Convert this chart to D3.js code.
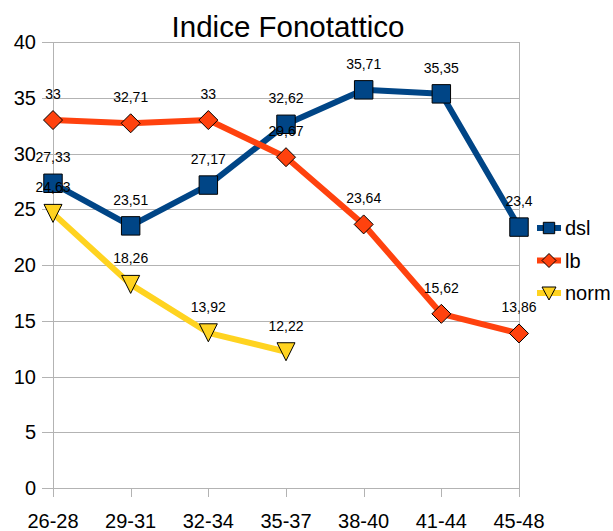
<!DOCTYPE html>
<html>
<head>
<meta charset="utf-8">
<script src="https://cdn.jsdelivr.net/npm/d3@7"></script>
<style>
  body { margin: 0; background: #fff; }
  text { font-family: "Liberation Sans", Arial, sans-serif; fill: #000; }
</style>
</head>
<body>
<div id="chart"></div>
<script>

// Categories (age groups) on the X axis.
var categories = ["26-28", "29-31", "32-34", "35-37", "38-40", "41-44", "45-48"];

// Series values, null where no value was recorded.
var dslValues  = [27.33, 23.51, 27.17, 32.62, 35.71, 35.35, 23.4];
var lbValues   = [33, 32.71, 33, 29.67, 23.64, 15.62, 13.86];
var normValues = [24.63, 18.26, 13.92, 12.22, null, null, null];

var yTicks = [0, 5, 10, 15, 20, 25, 30, 35, 40];

var series = [
  { name: "dsl",  values: dslValues,  color: "#004586", symbol: "square" },
  { name: "lb",   values: lbValues,   color: "#ff420e", symbol: "diamond" },
  { name: "norm", values: normValues, color: "#ffd320", symbol: "triangle" }
];

var width = 613, height = 531;
var margin = {top: 42, right: 94, bottom: 43, left: 53};
var plot_width = width - margin.left - margin.right,
    plot_height = height - margin.top - margin.bottom;

var svg = d3.select("#chart")
  .append("svg")
  .attr("width", width)
  .attr("height", height);

var g = svg.append("g")
  .attr("transform", "translate(" + margin.left + "," + margin.top + ")");

// Scales
var x = d3.scalePoint()
  .domain(categories)
  .range([0, plot_width]);

var y = d3.scaleLinear()
  .domain([0, 40])
  .range([plot_height, 0]);

// Title
svg.append("text")
  .attr("x", 288)
  .attr("y", 37)
  .style("text-anchor", "middle")
  .style("font-size", "29.5px")
  .text("Indice Fonotattico");

// Horizontal grid lines with outward ticks
g.append("g")
  .selectAll("line")
  .data(yTicks)
  .enter()
  .append("line")
  .attr("x1", -11)
  .attr("x2", plot_width)
  .attr("y1", function(d) { return Math.round(y(d)) + 0.5; })
  .attr("y2", function(d) { return Math.round(y(d)) + 0.5; })
  .attr("stroke", "#b3b3b3")
  .attr("stroke-width", 1);

// Y tick labels
g.append("g")
  .selectAll("text")
  .data(yTicks)
  .enter()
  .append("text")
  .attr("x", -17)
  .attr("y", function(d) { return y(d); })
  .attr("dy", "0.36em")
  .style("text-anchor", "end")
  .style("font-size", "20px")
  .text(function(d) { return d; });

// Left axis line and right wall line
g.append("line")
  .attr("x1", 0.5).attr("x2", 0.5)
  .attr("y1", 0).attr("y2", plot_height)
  .attr("stroke", "#b3b3b3");
g.append("line")
  .attr("x1", plot_width + 0.5).attr("x2", plot_width + 0.5)
  .attr("y1", 0).attr("y2", plot_height)
  .attr("stroke", "#b3b3b3");

// X axis ticks and labels
var xAxis = g.append("g")
  .attr("transform", "translate(0," + plot_height + ")");

xAxis.selectAll("line")
  .data(categories)
  .enter()
  .append("line")
  .attr("x1", function(d) { return Math.round(x(d)) + 0.5; })
  .attr("x2", function(d) { return Math.round(x(d)) + 0.5; })
  .attr("y1", 0)
  .attr("y2", 9)
  .attr("stroke", "#b3b3b3");

xAxis.selectAll("text")
  .data(categories)
  .enter()
  .append("text")
  .attr("x", function(d) { return x(d); })
  .attr("y", 40)
  .style("text-anchor", "middle")
  .style("font-size", "20px")
  .text(function(d) { return d; });

// Marker shapes
var symbolPath = {
  square: d3.symbol().type(d3.symbolSquare).size(340),
  diamond: function() {
    var s = 9.5;
    return "M0," + (-s) + "L" + s + ",0L0," + s + "L" + (-s) + ",0Z";
  },
  triangle: function() {
    return "M-9,-9L9,-9L0,9Z";
  }
};

var legendPath = {
  square: d3.symbol().type(d3.symbolSquare).size(130),
  diamond: function() { return "M0,-7L7,0L0,7L-7,0Z"; },
  triangle: function() { return "M-7,-6L7,-6L0,7Z"; }
};

var line = d3.line()
  .defined(function(d) { return d.value != null; })
  .x(function(d) { return x(d.cat); })
  .y(function(d) { return y(d.value); });

series.forEach(function(s) {
  var pts = categories.map(function(c, i) { return { cat: c, value: s.values[i] }; });

  g.append("path")
    .datum(pts)
    .attr("fill", "none")
    .attr("stroke", s.color)
    .attr("stroke-width", 6)
    .attr("stroke-linejoin", "round")
    .attr("d", line);

  g.selectAll(".mark-" + s.name)
    .data(pts.filter(function(d) { return d.value != null; }))
    .enter()
    .append("path")
    .attr("class", "mark-" + s.name)
    .attr("transform", function(d) { return "translate(" + x(d.cat) + "," + y(d.value) + ")"; })
    .attr("d", symbolPath[s.symbol])
    .attr("fill", s.color)
    .attr("stroke", "#000")
    .attr("stroke-width", 1);
});

// Data labels
series.forEach(function(s) {
  var pts = categories.map(function(c, i) { return { cat: c, value: s.values[i] }; });
  g.selectAll(".lab-" + s.name)
    .data(pts.filter(function(d) { return d.value != null; }))
    .enter()
    .append("text")
    .attr("class", "lab-" + s.name)
    .attr("x", function(d) { return x(d.cat); })
    .attr("y", function(d) { return y(d.value) - 21; })
    .style("text-anchor", "middle")
    .style("font-size", "14px")
    .text(function(d) { return String(d.value).replace(".", ","); });
});

// Legend
var legend = svg.append("g")
  .attr("transform", "translate(537,228)");

series.forEach(function(s, i) {
  var row = legend.append("g")
    .attr("transform", "translate(0," + (i * 32.5) + ")");
  row.append("line")
    .attr("x1", 0).attr("x2", 24)
    .attr("y1", 0).attr("y2", 0)
    .attr("stroke", s.color)
    .attr("stroke-width", 6);
  row.append("path")
    .attr("transform", "translate(12,0)")
    .attr("d", legendPath[s.symbol])
    .attr("fill", s.color)
    .attr("stroke", "#000")
    .attr("stroke-width", 1);
  row.append("text")
    .attr("x", 28)
    .attr("y", 0)
    .attr("dy", "0.36em")
    .style("font-size", "20px")
    .text(s.name);
});

</script>
</body>
</html>
